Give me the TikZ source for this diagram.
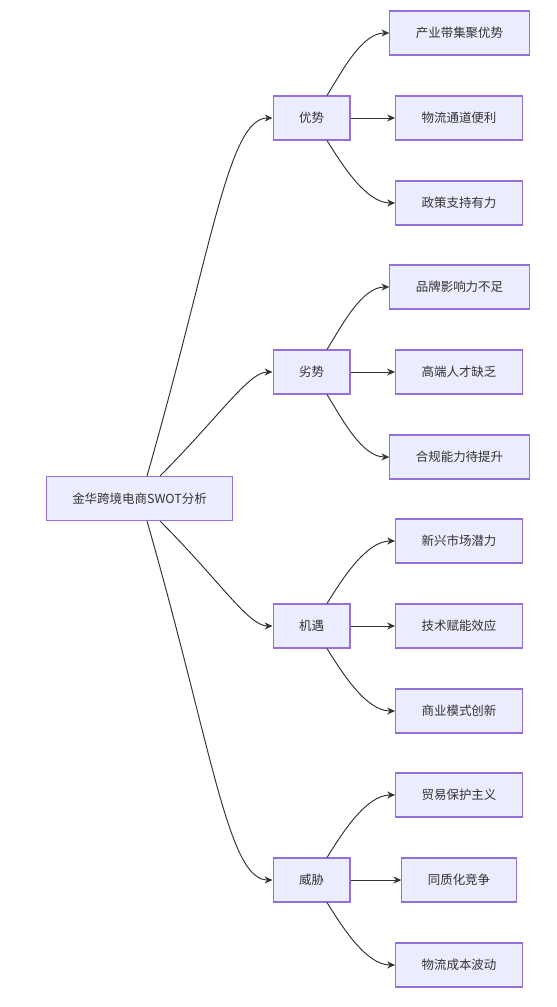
\documentclass[tikz,border=0pt]{standalone}
\usepackage{fontspec}
\setmainfont{Noto Sans CJK SC}
\usepackage{tikz}
\usetikzlibrary{arrows.meta,positioning,calc}
\definecolor{boxfill}{HTML}{ECECFF}
\definecolor{boxline}{HTML}{9370DB}
\definecolor{inkgray}{HTML}{333333}

\tikzset{
  box/.style={draw=boxline, fill=boxfill, line width=0.6pt, text=inkgray,
    inner xsep=0.52cm, minimum height=0.88cm, font=\fontsize{7.1}{9}\selectfont},
  link/.style={draw=inkgray, line width=0.55pt, -{Stealth[length=4.5pt,width=4pt]}}
}

\begin{document}
\begin{tikzpicture}[x=0.02cm, y=-0.02cm]
    \useasboundingbox (0,0) rectangle (557,1007);
    % root
    \node[box] (root) at (139.5,498.5) {金华跨境电商SWOT分析};

    % four branches
    \node[box] (you) at (311.5,118) {优势};
    \node[box] (lie) at (311.5,372) {劣势};
    \node[box] (ji)  at (311.5,626) {机遇};
    \node[box] (wei) at (311.5,880) {威胁};

    % leaves
    \node[box] (you1) at (459.5,33)  {产业带集聚优势};
    \node[box] (you2) at (459,118)   {物流通道便利};
    \node[box] (you3) at (459,203)   {政策支持有力};
    \node[box] (lie1) at (459.5,287) {品牌影响力不足};
    \node[box] (lie2) at (459,372)   {高端人才缺乏};
    \node[box] (lie3) at (459.5,457) {合规能力待提升};
    \node[box] (ji1)  at (459,541)   {新兴市场潜力};
    \node[box] (ji2)  at (459,626)   {技术赋能效应};
    \node[box] (ji3)  at (459,711)   {商业模式创新};
    \node[box] (wei1) at (459,795)   {贸易保护主义};
    \node[box] (wei2) at (459,880)   {同质化竞争};
    \node[box] (wei3) at (459,965)   {物流成本波动};

    % root to branches
    \draw[link] ($(root.north)+(7.5,0)$) to[out=74,in=180,out looseness=1.6,in looseness=0.3] (you.west);
    \draw[link] ($(root.north)+(20.5,0)$) to[out=45,in=180,out looseness=1.4,in looseness=0.4] (lie.west);
    \draw[link] ($(root.south)+(20.5,0)$) to[out=-45,in=180,out looseness=1.4,in looseness=0.4] (ji.west);
    \draw[link] ($(root.south)+(7.5,0)$) to[out=-74,in=180,out looseness=1.6,in looseness=0.3] (wei.west);

    % branches to leaves
    \foreach \b in {you,lie,ji,wei}{
      \draw[link] ($(\b.north)+(15.5,0)$) to[out=58,in=180,looseness=0.8] (\b1.west);
      \draw[link] (\b.east) -- (\b2.west);
      \draw[link] ($(\b.south)+(15.5,0)$) to[out=-58,in=180,looseness=0.8] (\b3.west);
    }
\end{tikzpicture}
\end{document}
